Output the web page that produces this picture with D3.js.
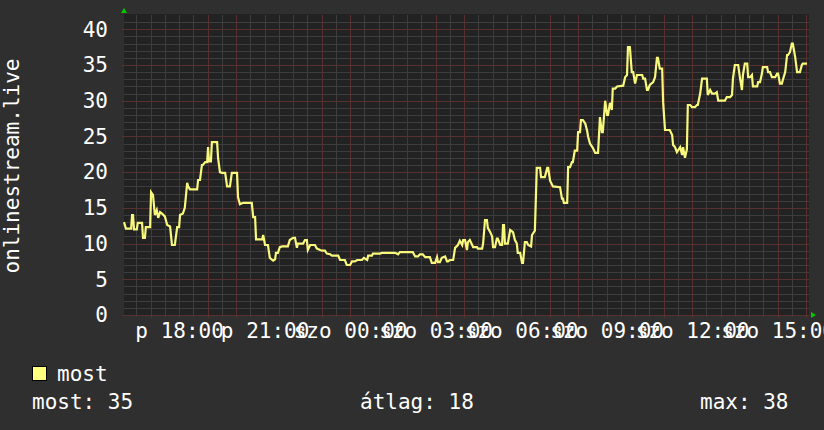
<!DOCTYPE html>
<html><head><meta charset="utf-8">
<script src="https://cdn.jsdelivr.net/npm/d3@7"></script>
<style>
body{margin:0;background:#2f2f2f;overflow:hidden}
text{font-family:"DejaVu Sans Mono",monospace;fill:#ffffff}
</style>
</head><body><svg id="c" width="824" height="430"></svg>
<script>
// ---- data ----
const yTicks = [0, 5, 10, 15, 20, 25, 30, 35, 40];
const xTickLabels = ["p 18:00", "p 21:00", "szo 00:00", "szo 03:00", "szo 06:00", "szo 09:00", "szo 12:00", "szo 15:00"];
const yAxisTitle = "onlinestream.live";
const legendLabels = ["most"];
const statLabels = ["most: 35", "átlag: 18", "max: 38"];
// [minutes after Fri 16:04, value]
const samples = [
 [0,13.0],[4,12.1],[15,12.1],[17,14.0],[19,14.0],[21,12.0],[27,12.0],[29,12.9],[38,12.9],[40,10.8],
 [44,10.8],[46,12.3],[55,12.3],[57,17.2],[59,17.0],[61,16.8],[65,14.0],[69,14.7],[72,13.6],[76,14.4],
 [80,14.2],[86,13.8],[91,12.6],[97,12.4],[101,9.8],[107,9.8],[112,12.3],[116,12.3],[118,14.0],[124,14.2],
 [128,15.0],[133,18.5],[135,18.0],[139,17.6],[154,17.6],[156,18.9],[160,18.9],[164,21.0],[166,21.0],[171,21.4],
 [175,21.4],[177,23.5],[179,21.5],[183,21.5],[185,24.2],[196,24.2],[198,22.0],[202,20.0],[206,19.9],[213,19.9],
 [217,18.0],[223,18.0],[227,19.9],[238,19.9],[240,16.5],[244,15.5],[251,15.7],[269,15.7],[272,13.7],[276,13.7],
 [278,10.6],
 [291,10.6],[293,11.2],[297,9.8],[303,9.8],[307,8.0],[314,7.6],[318,7.8],[320,8.7],[324,8.7],[328,9.5],
 [333,9.6],[345,9.6],[349,10.5],[356,10.8],[360,10.8],[364,9.4],[366,10.0],[377,10.0],[381,10.5],[385,10.5],
 [387,9.1],[392,9.8],[402,9.8],[406,9.3],[413,9.1],[417,9.0],[423,9.0],[427,8.6],[434,8.5],[438,8.3],
 [451,8.3],[455,7.7],[465,7.7],[469,7.0],[476,7.0],[480,7.5],[486,7.5],[491,7.7],[501,7.7],[505,8.0],
 [512,7.7],[514,8.3],[522,8.3],[524,8.6],[539,8.6],[543,8.7],[571,8.7],
 [577,8.5],[581,8.8],[608,8.8],[613,8.2],[619,8.2],[623,8.5],[629,8.5],[634,8.1],[644,8.1],[648,7.3],
 [655,7.3],[659,8.1],[661,7.4],[665,7.4],[669,8.0],[676,8.2],[680,7.5],[682,7.5],[686,7.7],[693,7.7],
 [697,9.4],[703,9.8],[707,10.4],[712,9.8],[714,10.5],[718,10.5],[722,9.1],[724,10.2],[728,10.5],[733,9.8],
 [735,9.5],[743,9.5],[745,9.3],[754,9.3],[756,10.0],[760,13.3],[764,13.3],[766,12.2],[771,11.6],[775,11.0],
 [777,9.5],[781,9.5],[785,10.7],[787,10.7],[792,9.8],[796,9.8],[798,12.6],[800,12.6],[802,10.0],[808,10.0],
 [813,11.9],[819,11.6],[823,10.5],[827,10.0],[829,8.7],[834,8.7],[838,7.3],[840,7.3],[844,10.2],[848,10.2],
 [851,9.8],[857,9.6],[859,11.2],[865,11.8],[869,20.6],
 [876,20.6],[878,19.3],[886,19.3],[891,20.6],[893,20.6],[897,18.8],[903,18.0],[918,17.9],[922,16.3],[924,16.3],
 [926,15.7],[933,15.7],[935,20.7],[939,20.7],[943,21.4],[945,21.4],[949,23.0],[954,23.0],[956,25.6],[960,25.6],
 [962,27.3],[966,27.3],[971,26.8],[975,25.8],[977,25.0],[981,24.0],[987,23.4],[992,22.7],[998,22.7],[1002,27.7],
 [1006,25.6],[1008,25.6],[1013,30.0],[1017,28.0],[1019,28.0],[1023,29.7],[1027,28.7],[1029,31.7],[1034,31.7],[1038,32.0],
 [1051,32.1],[1055,33.3],[1059,33.6],[1061,37.5],[1065,37.5],[1069,34.0],[1072,34.0],[1076,32.4],[1080,33.6],[1091,33.6],
 [1093,33.1],[1097,33.1],[1101,31.5],[1103,31.5],[1107,32.2],[1114,32.6],[1118,33.3],[1122,36.0],[1124,36.0],[1128,34.5],
 [1133,34.5],[1135,29.8],[1139,25.9],[1149,25.9],[1154,25.2],[1156,23.8],[1160,23.5],[1164,22.8],[1171,23.5],
 [1175,22.4],[1177,23.5],[1181,22.0],[1185,23.2],[1187,29.4],[1192,29.4],[1196,29.1],[1202,29.1],[1206,29.4],[1208,29.4],
 [1213,31.0],[1217,33.1],[1227,33.1],[1229,30.8],[1234,31.5],[1238,31.0],[1244,31.0],[1248,31.2],[1251,30.0],[1265,30.0],
 [1269,30.5],[1276,30.5],[1280,30.8],[1282,33.1],[1286,35.0],[1293,35.0],[1297,33.1],[1301,31.5],[1303,33.6],[1307,35.2],
 [1312,35.2],[1314,33.3],[1318,33.3],[1322,33.6],[1324,32.0],[1333,32.0],[1335,32.6],[1339,32.6],[1343,33.8],[1345,34.7],
 [1354,34.7],[1356,34.0],[1360,34.0],[1364,33.3],[1371,33.3],[1375,33.8],[1377,33.8],[1381,32.4],[1385,32.4],[1387,32.9],
 [1392,34.0],[1396,36.4],[1398,36.4],[1402,36.8],[1406,38.0],[1408,38.0],[1413,36.1],[1417,34.0],[1423,34.0],[1427,35.0],
 [1429,35.2],[1438,35.2]
];

// ---- layout ----
const svg = d3.select("#c");
const L = 124, R = 808, T = 15, B = 315;
const start = new Date(2024, 2, 1, 16, 4);   // Friday
const end = new Date(start.getTime() + 1440 * 60000);
const x = d3.scaleTime().domain([start, end]).range([L, R]);
const y = d3.scaleLinear().domain([0, 42]).range([B, T]);
const data = samples.map(d => ({t: new Date(start.getTime() + d[0] * 60000), v: d[1]}));

svg.append("rect").attr("width", 824).attr("height", 430).attr("fill", "#2f2f2f");
svg.append("rect").attr("x", L).attr("y", T - 1).attr("width", R - L + 1).attr("height", B - T + 1).attr("fill", "#222222");

const minorC = "#3d3d3d", majorC = "#583030";
const grid = svg.append("g").attr("shape-rendering", "crispEdges");
const hLine = (v, c, x0) => grid.append("rect").attr("x", x0).attr("y", Math.round(y(v)))
  .attr("width", R + 1 - x0).attr("height", 1).attr("fill", c);
const vLine = (d, c, ext) => grid.append("rect").attr("x", Math.round(x(d))).attr("y", T)
  .attr("width", 1).attr("height", B + ext - T).attr("fill", c);

d3.range(1, 42).filter(v => v % 5 !== 0).forEach(v => hLine(v, minorC, L));
x.ticks(d3.timeMinute.every(30)).filter(d => d.getMinutes() !== 0).forEach(d => vLine(d, minorC, 2));
yTicks.forEach(v => hLine(v, majorC, L - 2));
x.ticks(d3.timeHour.every(1)).forEach(d => vLine(d, majorC, 3));

// axes labels
const yAx = svg.append("g").attr("transform", `translate(${L},0)`)
  .call(d3.axisLeft(y).tickValues(yTicks).tickSize(0).tickPadding(16));
yAx.select(".domain").remove();
yAx.selectAll("text").attr("font-size", 21).attr("font-family", "DejaVu Sans Mono").attr("fill", "#fff");

const xTicks = x.ticks(d3.timeHour.every(3));
const xAx = svg.append("g").attr("transform", `translate(0,${B})`)
  .call(d3.axisBottom(x).tickValues(xTicks).tickFormat((d, i) => xTickLabels[i]).tickSize(0).tickPadding(8));
xAx.select(".domain").remove();
xAx.selectAll("text").attr("font-size", 21).attr("font-family", "DejaVu Sans Mono").attr("fill", "#fff");

// y title
svg.append("text").attr("transform", "translate(18.5,166) rotate(-90)").attr("text-anchor", "middle")
  .attr("font-size", 21).text(yAxisTitle);

// arrows
svg.append("path").attr("d", `M${L - 3},${T - 2} L${L + 3},${T - 2} L${L},${T - 7} Z`).attr("fill", "#00cc00");
svg.append("path").attr("d", `M${R + 3},${B - 3} L${R + 3},${B + 3} L${R + 8},${B} Z`).attr("fill", "#00cc00");

// line
svg.append("path").datum(data)
  .attr("d", d3.line().x(d => x(d.t)).y(d => y(d.v)))
  .attr("fill", "none").attr("stroke", "#f8f87c").attr("stroke-width", 2.2).attr("stroke-linejoin", "miter");

// legend
svg.append("rect").attr("x", 32.5).attr("y", 366.5).attr("width", 14).attr("height", 14)
  .attr("fill", "#ffff80").attr("stroke", "#000");
svg.append("text").attr("x", 57).attr("y", 381).attr("font-size", 21).text(legendLabels[0]);
const statX = [32, 360, 700];
statLabels.forEach((s, i) => {
  svg.append("text").attr("x", statX[i]).attr("y", 409).attr("font-size", 21).text(s);
});
</script>
</body></html>
